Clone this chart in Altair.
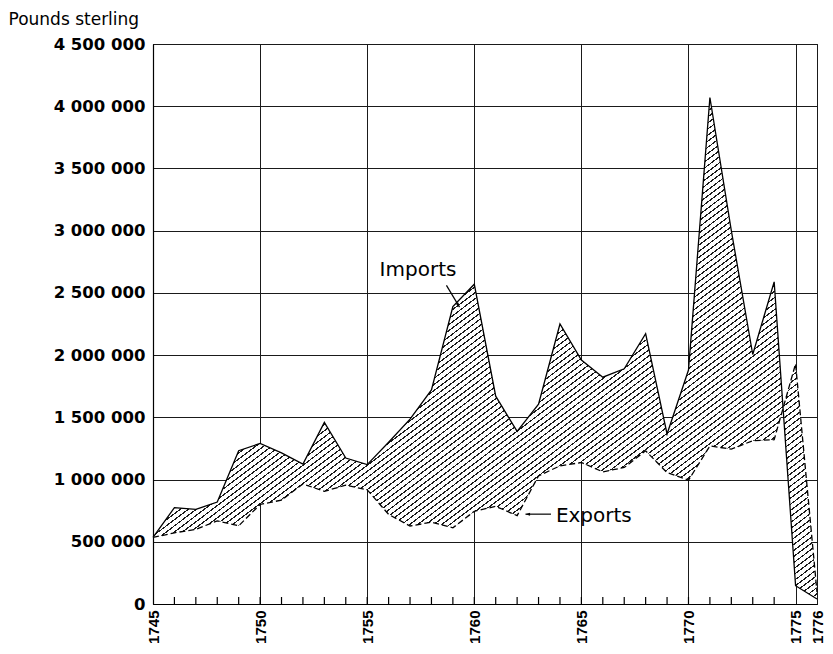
import altair as alt
import pandas as pd

# ---- data (pounds sterling) ----
years = list(range(1745, 1777))
imports = [535000, 774000, 760000, 819000, 1232000, 1290000, 1215000, 1125000,
           1459000, 1173000, 1120000, 1300000, 1485000, 1720000, 2390000, 2570000,
           1670000, 1387000, 1606000, 2250000, 1960000, 1823000, 1890000, 2172000,
           1366000, 1880000, 4070000, 3000000, 2005000, 2589000, 147000, 40000]
exports = [535000, 572000, 600000, 668000, 628000, 800000, 835000, 965000,
           905000, 955000, 918000, 720000, 627000, 657000, 612000, 745000,
           785000, 710000, 1030000, 1110000, 1137000, 1062000, 1097000, 1231000,
           1056000, 995000, 1270000, 1245000, 1312000, 1320000, 1930000, 95000]

x_ticks = [1745, 1750, 1755, 1760, 1765, 1770, 1775, 1776]
y_ticks = [0, 500000, 1000000, 1500000, 2000000, 2500000, 3000000,
           3500000, 4000000, 4500000]
minor_years = list(range(1746, 1775))

labels = ["Imports", "Exports"]
label_x = [1755.58, 1763.81]
label_y = [2632000, 660000]

arrow_x = [1758.70, 1763.58]
arrow_y = [2560000, 722000]
arrow_x2 = [1759.31, 1762.39]
arrow_y2 = [2386000, 722000]
arrow_angle = [148.5, 270]

df = pd.DataFrame({"year": years, "imports": imports, "exports": exports})
ticks_df = pd.DataFrame({"year": minor_years})
lab_df = pd.DataFrame({"label": labels, "x": label_x, "y": label_y})
arr_df = pd.DataFrame({"x": arrow_x, "y": arrow_y, "x2": arrow_x2,
                       "y2": arrow_y2, "angle": arrow_angle})

FONT = "DejaVu Sans"
W, H = 664, 560

x_scale = alt.Scale(domain=[1745, 1776], nice=False, zero=False)
y_scale = alt.Scale(domain=[0, 4500000], nice=False)

# hatch pattern built from a striped linear gradient
N = 165
frac = 0.24
stops = []
for i in range(N):
    a = i / N
    b = (i + frac) / N
    stops += [alt.GradientStop(color="#ffffff", offset=a),
              alt.GradientStop(color="#1a1a1a", offset=a),
              alt.GradientStop(color="#1a1a1a", offset=b),
              alt.GradientStop(color="#ffffff", offset=b)]
hatch = alt.LinearGradient(gradient="linear", stops=stops, x1=0, y1=0, x2=1, y2=1)

x_axis = alt.Axis(values=x_ticks, format="d", labelAngle=270, labelFont="Liberation Sans",
                  labelFontWeight="bold", labelFontSize=15, labelPadding=6,
                  labelFlush=False, labelOverlap=False, ticks=False, title=None,
                  grid=True)
y_axis = alt.Axis(values=y_ticks,
                  labelExpr="replace(format(datum.value, ','), regexp(',', 'g'), ' ')",
                  labelFont=FONT, labelFontWeight="bold", labelFontSize=16.5,
                  labelPadding=8, ticks=False, grid=True,
                  title="Pounds sterling", titleAngle=0, titleAlign="left",
                  titleBaseline="alphabetic", titleX=-145, titleY=-20,
                  titleFont=FONT, titleFontSize=17, titleFontWeight="normal")


def X(field):
    return alt.X(field, type="quantitative", scale=x_scale, axis=x_axis)


def Y(field):
    return alt.Y(field, type="quantitative", scale=y_scale, axis=y_axis)


base = alt.Chart(df)

area = base.mark_area(fill=hatch).encode(
    x=X("year"), y=Y("exports"), y2="imports:Q",
)
imp_line = base.mark_line(color="black", strokeWidth=1.3).encode(
    x=X("year"), y=Y("imports"),
)
exp_line = base.mark_line(color="black", strokeWidth=1.3, strokeDash=[6, 3]).encode(
    x=X("year"), y=Y("exports"),
)

minor = alt.Chart(ticks_df).mark_rule(color="black", strokeWidth=1.2).encode(
    x=X("year"), y=alt.value(H), y2=alt.value(H - 7),
)

arrows = alt.Chart(arr_df).mark_rule(color="black", strokeWidth=1.2).encode(
    x=X("x"), y=Y("y"), x2="x2:Q", y2="y2:Q",
)
heads = alt.Chart(arr_df).mark_point(
    shape="M0,0L-0.42,1.3L0.42,1.3Z", filled=True, color="black", opacity=1, size=50
).encode(
    x=X("x2"), y=Y("y2"), angle=alt.Angle("angle:Q", scale=None),
)

texts = alt.Chart(lab_df).mark_text(
    font=FONT, fontSize=20, align="left", baseline="alphabetic", color="black"
).encode(
    x=X("x"), y=Y("y"), text="label:N",
)

chart = alt.layer(area, imp_line, exp_line, minor, arrows, heads, texts).properties(
    width=W, height=H,
    autosize=alt.AutoSizeParams(type="none"),
    padding={"left": 145, "top": 36, "right": 8, "bottom": 40},
    background="white",
).configure_view(stroke="black", strokeWidth=1).configure_axis(
    domainColor="black", domainWidth=1.2, gridColor="#1a1a1a", gridWidth=1,
    gridOpacity=1, labelColor="black", titleColor="black", zindex=1,
)

chart.save("out.html", embed_options={"renderer": "svg", "actions": False})
